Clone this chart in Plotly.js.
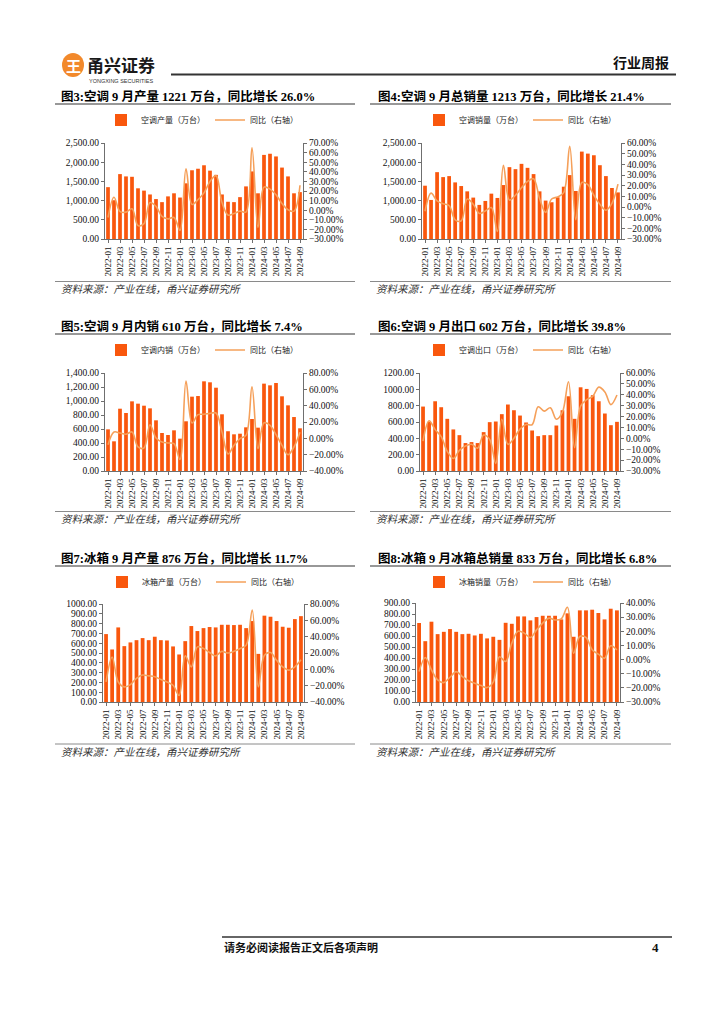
<!DOCTYPE html>
<html><head><meta charset="utf-8">
<script src="https://cdn.plot.ly/plotly-3.0.1.min.js"></script>
<style>html,body{margin:0;padding:0;background:#fff}#chart{width:724px;height:1024px}</style>
</head><body><div id="chart"></div>
<script>
const months = ['2022-01','2022-02','2022-03','2022-04','2022-05','2022-06','2022-07','2022-08','2022-09','2022-10','2022-11','2022-12',
  '2023-01','2023-02','2023-03','2023-04','2023-05','2023-06','2023-07','2023-08','2023-09','2023-10','2023-11','2023-12',
  '2024-01','2024-02','2024-03','2024-04','2024-05','2024-06','2024-07','2024-08','2024-09'];
const tickMonths = ['2022-01','2022-03','2022-05','2022-07','2022-09','2022-11','2023-01','2023-03','2023-05','2023-07','2023-09','2023-11','2024-01','2024-03','2024-05','2024-07','2024-09'];

const acProd = [1350,1010,1690,1630,1620,1320,1260,1160,1040,960,1110,1190,1080,1450,1790,1830,1920,1780,1670,1160,970,960,1090,1370,1760,1190,2190,2220,2150,1860,1630,1190,1221];
const acProdYoy = [-7.6,13.5,-1.5,-2,1.5,-16,-14,8,4,-6.5,-9,-7.6,-21,43,6,11,18,30,36,8,-5,-3.5,-1,-2,65,-18,24,22,16,7,0.5,-1,26.0];

const acSales = [1388,1017,1741,1612,1638,1474,1379,1241,1078,888,991,1181,1069,1405,1871,1819,1957,1853,1690,1241,1000,957,1086,1362,1664,1250,2276,2224,2181,1922,1638,1328,1213];
const acSalesYoy = [-4,13,5.7,3,1.3,-12,-13,7.5,2.6,-6,-3.7,-0.5,-23,39,6.5,11,18,24,26.5,8,-5,7.5,9.5,13.5,57,-12,23,21,11,2.5,-3,3.5,21.4];

const acDom = [595,424,890,829,995,962,933,895,724,543,514,581,462,710,1062,1071,1281,1267,1190,810,568,524,533,624,743,619,1248,1224,1257,1067,938,771,610];
const acDomYoy = [-7.8,7.8,6.5,5,7.8,-10.6,-11.8,16.7,0.4,-4.5,-5.7,-6.5,-26,70,18.8,29,29.4,30.6,31,7.8,-19,-8.6,-0.4,3.7,63,-12.7,19,16,4.5,-8.6,-20,-10.6,7.4];

const acExp = [789,600,854,781,639,509,439,342,354,342,476,598,606,696,814,744,679,594,496,427,439,439,557,744,915,639,1025,1005,928,854,704,561,602];
const acExpYoy = [-2.5,16,8,1.5,-12,-18.5,-11,-7,-5.5,-9,3,-1,-23,17.5,-5.5,0,8.5,12.7,12.5,29,25,28,17.5,24,52,-8.5,29.5,35.5,38.6,47,42.6,31,39.8];

const frProd = [693,536,761,570,608,631,652,631,666,631,628,567,485,621,775,724,754,765,761,788,788,785,788,754,826,491,881,870,826,768,758,846,876];
const frProdYoy = [-15.5,15,-15.5,-21.5,-18.7,-11,-7,-8,-9,-12.5,-15.5,-19.5,-32,16.5,3,27.5,25.5,20.6,16.5,22,20,22,25.5,29.6,72.6,-21.5,17.3,20.6,11,3,-1,3,11.7];

const frSales = [718,553,730,617,638,663,638,617,620,605,620,578,593,565,720,711,778,778,742,772,784,784,784,751,806,593,833,833,839,809,751,848,833];
const frSalesYoy = [-8.5,1.5,-7.3,-14.4,-16.3,-12.5,-8.5,-12,-15,-16.8,-18.4,-19.8,-16,2,-1.4,11.6,20,18.7,15.6,21,25.8,29.3,28,28.8,37,4.5,16.3,15.6,6.9,3.8,1,9.7,6.8];

const barNames = ['空调产量（万台）','空调销量（万台）','空调内销（万台）','空调出口（万台）','冰箱产量（万台）','冰箱销量（万台）'];
const lineName = '同比（右轴）';
const titles = ['图3:空调 9 月产量 1221 万台，同比增长 26.0%','图4:空调 9 月总销量 1213 万台，同比增长 21.4%',
  '图5:空调 9 月内销 610 万台，同比增长 7.4%','图6:空调 9 月出口 602 万台，同比增长 39.8%',
  '图7:冰箱 9 月产量 876 万台，同比增长 11.7%','图8:冰箱 9 月冰箱总销量 833 万台，同比增长 6.8%'];
const sourceText = '资料来源：产业在线，甬兴证券研究所';

const W = 724, H = 1024;
const PX = v => v / W, PY = v => 1 - v / H;
const BAR = '#F9570D', LINE = '#F5A05A', AX = '#6f6f6f';
const SERIF = '"Liberation Serif", "Times New Roman", "Noto Sans CJK SC", serif';
const CJK = '"Noto Sans CJK SC", "Liberation Serif", sans-serif';
const TITLEF = '"Liberation Serif", "Noto Sans CJK SC", serif';

const series = [[acProd, acProdYoy],[acSales, acSalesYoy],[acDom, acDomYoy],[acExp, acExpYoy],[frProd, frProdYoy],[frSales, frSalesYoy]];
const geo = [
  {x0:105,x1:303,y0:143,y1:239,yl:[0,2500],dl:500,fl:',.2f',yr:[-30,70],dr:10,lx:202,ly:120,tx:59,ty:96},
  {x0:422,x1:621,y0:143,y1:239,yl:[0,2500],dl:500,fl:',.2f',yr:[-30,60],dr:10,lx:520,ly:120,tx:376,ty:96},
  {x0:105,x1:303,y0:373,y1:471,yl:[0,1400],dl:200,fl:',.2f',yr:[-40,80],dr:20,lx:202,ly:350,tx:59,ty:326},
  {x0:420,x1:620,y0:373,y1:471,yl:[0,1200],dl:200,fl:'.2f',yr:[-30,60],dr:10,lx:520,ly:350,tx:376,ty:326},
  {x0:103,x1:304,y0:604,y1:702,yl:[0,1000],dl:100,fl:'.2f',yr:[-40,80],dr:20,lx:203,ly:582,tx:59,ty:558},
  {x0:416,x1:620,y0:603,y1:702,yl:[0,900],dl:100,fl:'.2f',yr:[-30,40],dr:10,lx:520,ly:582,tx:376,ty:558}
];
const rows = [{titleLine:104, srcLine:281.5, src:288},{titleLine:334, srcLine:511.5, src:518.5},{titleLine:566, srcLine:744, src:751.5}];

const data = [];
const layout = {width:W, height:H, margin:{l:0,r:0,t:0,b:0}, paper_bgcolor:'#fff', plot_bgcolor:'rgba(0,0,0,0)',
  showlegend:true, shapes:[], annotations:[], font:{family:SERIF, color:'#000'}};

geo.forEach((g, k) => {
  const xi = k + 1, yl = 2*k + 1, yr = 2*k + 2;
  const xs = xi === 1 ? '' : String(xi);
  const ls = yl === 1 ? '' : String(yl);
  const legKey = k === 0 ? 'legend' : 'legend' + (k + 1);
  data.push({type:'bar', x:months, y:series[k][0], name:barNames[k], marker:{color:BAR, line:{width:0}}, width:0.62,
    xaxis:'x'+xs, yaxis:'y'+ls, legend:legKey, hoverinfo:'skip'});
  data.push({type:'scatter', mode:'lines', x:months, y:series[k][1], name:lineName, line:{color:LINE, width:1.6, shape:'spline', smoothing:1},
    xaxis:'x'+xs, yaxis:'y'+yr, legend:legKey, hoverinfo:'skip'});
  layout['xaxis'+xs] = {domain:[PX(g.x0), PX(g.x1)], anchor:'y'+ls, type:'category', range:[-0.5, 32.5],
    tickmode:'array', tickvals:tickMonths, ticktext:tickMonths, tickangle:-90, ticks:'outside', ticklen:3, tickcolor:AX,
    showline:true, linecolor:AX, linewidth:1, showgrid:false, zeroline:false, tickfont:{family:SERIF, size:9, color:'#111'}, fixedrange:true};
  layout['yaxis'+ls] = {domain:[PY(g.y1), PY(g.y0)], anchor:'x'+xs, range:g.yl, dtick:g.dl, tick0:0, tickformat:g.fl,
    ticks:'outside', ticklen:3, tickcolor:AX, showline:true, linecolor:AX, linewidth:1, showgrid:false, zeroline:false,
    tickfont:{family:SERIF, size:9.5, color:'#111'}, fixedrange:true};
  layout['yaxis'+yr] = {overlaying:'y'+ls, anchor:'x'+xs, side:'right', range:g.yr, dtick:g.dr, tick0:0, tickformat:'.2f', ticksuffix:'%',
    ticks:'outside', ticklen:3, tickcolor:AX, showline:true, linecolor:AX, linewidth:1, showgrid:false, zeroline:false,
    tickfont:{family:SERIF, size:9.5, color:'#111'}, fixedrange:true};
  layout[legKey] = {x:PX(g.lx), y:PY(g.ly), xanchor:'center', yanchor:'middle', orientation:'h', bgcolor:'rgba(0,0,0,0)',
    font:{family:CJK, size:8, color:'#222'}, itemwidth:30, tracegroupgap:0};
  layout.annotations.push({xref:'paper', yref:'paper', x:PX(g.tx), y:PY(g.ty), xanchor:'left', yanchor:'middle', showarrow:false,
    text:titles[k], font:{family:TITLEF, size:12.5, weight:700, color:'#000'}});
});

rows.forEach(r => {
  [[55,355],[370,671]].forEach(([a,b], j) => {
    layout.shapes.push({type:'line', xref:'paper', yref:'paper', x0:PX(a), x1:PX(b), y0:PY(r.titleLine), y1:PY(r.titleLine), line:{color:'#333', width:1.2}});
    layout.shapes.push({type:'line', xref:'paper', yref:'paper', x0:PX(a), x1:PX(b), y0:PY(r.srcLine), y1:PY(r.srcLine), line:{color:'#8a8a8a', width:1}});
    layout.annotations.push({xref:'paper', yref:'paper', x:PX(a + 4), y:PY(r.src), xanchor:'left', yanchor:'middle', showarrow:false,
      text:sourceText, font:{family:CJK, size:10.5, style:'italic', color:'#333'}});
  });
});

// header
layout.shapes.push({type:'circle', xref:'paper', yref:'paper', x0:PX(62), x1:PX(84), y0:PY(77), y1:PY(53), fillcolor:'#F2892B', line:{width:0}});
layout.shapes.push({type:'line', xref:'paper', yref:'paper', x0:PX(171), x1:PX(676), y0:PY(74.5), y1:PY(74.5), line:{color:'#333', width:2}});
layout.annotations.push({xref:'paper', yref:'paper', x:PX(73), y:PY(65), xanchor:'center', yanchor:'middle', showarrow:false,
  text:'王', font:{family:CJK, size:15, weight:700, color:'#fff'}});
layout.annotations.push({xref:'paper', yref:'paper', x:PX(85), y:PY(64), xanchor:'left', yanchor:'middle', showarrow:false,
  text:'甬兴证券', font:{family:CJK, size:17, weight:700, color:'#1a1a1a'}});
layout.annotations.push({xref:'paper', yref:'paper', x:PX(87), y:PY(80.5), xanchor:'left', yanchor:'middle', showarrow:false,
  text:'YONGXING SECURITIES', font:{family:'"Liberation Sans", sans-serif', size:5.5, color:'#333'}});
layout.annotations.push({xref:'paper', yref:'paper', x:PX(671), y:PY(62), xanchor:'right', yanchor:'middle', showarrow:false,
  text:'行业周报', font:{family:CJK, size:14, weight:700, color:'#111'}});

// footer
layout.shapes.push({type:'line', xref:'paper', yref:'paper', x0:PX(222), x1:PX(672), y0:PY(937), y1:PY(937), line:{color:'#333', width:1.5}});
layout.annotations.push({xref:'paper', yref:'paper', x:PX(222), y:PY(947), xanchor:'left', yanchor:'middle', showarrow:false,
  text:'请务必阅读报告正文后各项声明', font:{family:CJK, size:11, weight:700, color:'#111'}});
layout.annotations.push({xref:'paper', yref:'paper', x:PX(655), y:PY(947), xanchor:'center', yanchor:'middle', showarrow:false,
  text:'4', font:{family:SERIF, size:13, weight:700, color:'#111'}});

Plotly.newPlot('chart', data, layout, {staticPlot:true, displayModeBar:false});
</script></body></html>
